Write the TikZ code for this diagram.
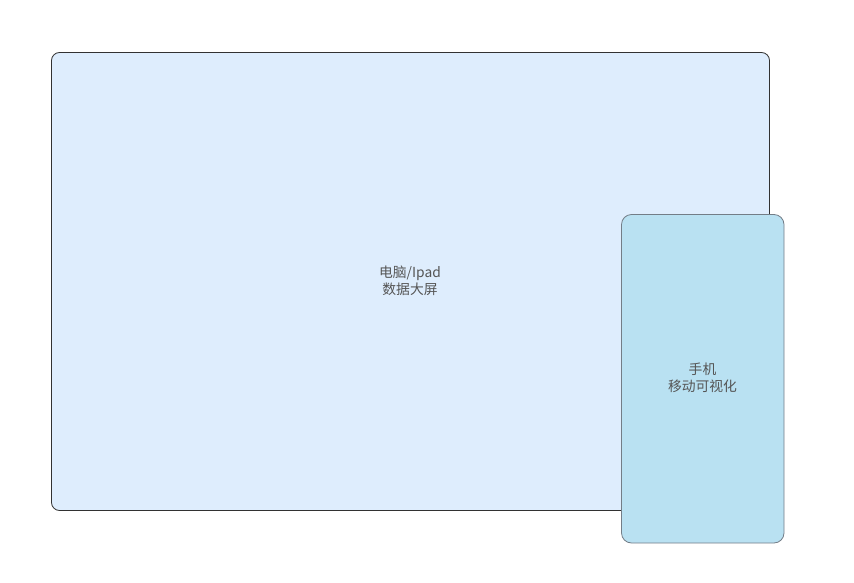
\documentclass[tikz,border=0pt]{standalone}
\usepackage{fontspec}
\newfontfamily\cjk{Noto Sans CJK SC}
\definecolor{bigfill}{RGB}{222,237,253}
\definecolor{bigdraw}{RGB}{50,50,50}
\definecolor{phonefill}{RGB}{185,225,242}
\definecolor{phonedraw}{RGB}{115,125,135}
\definecolor{txt}{RGB}{85,85,85}
\begin{document}
\begin{tikzpicture}[x=1pt,y=-1pt,
  screen/.style={rounded corners=8pt, line width=0.8pt},
  lbl/.style={font=\cjk\fontsize{13.8}{17}\selectfont, text=txt, align=center}]
\useasboundingbox (0,0) rectangle (854,583);
\draw[screen, fill=bigfill, draw=bigdraw] (51.5,52.5) rectangle (769.5,510.5);
\node[lbl] (big) at (410,281) {电脑/Ipad\\数据大屏};
\draw[screen, rounded corners=10pt, fill=phonefill, draw=phonedraw] (621.5,214.5) rectangle (784,543);
\node[lbl] (phone) at (702.5,378) {手机\\移动可视化};
\end{tikzpicture}
\end{document}
